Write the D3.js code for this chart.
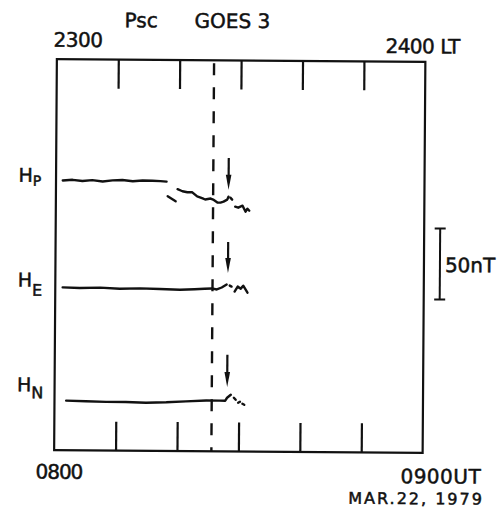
<!DOCTYPE html>
<html><head><meta charset="utf-8">
<script src="https://cdn.jsdelivr.net/npm/d3@7"></script>
<style>html,body{margin:0;padding:0;background:#fff}</style>
</head><body><svg id="c" width="499" height="512"></svg>
<script>
// ---------- data ----------
const titleTexts = ["Psc", "GOES 3"];
const topLabels = ["2300", "2400 LT"];
const bottomLabels = ["0800", "0900UT"];
const dateText = "MAR.22, 1979";
const tickMinutes = [10, 20, 30, 40, 50];   // minutes after 0800 UT
const pscMinute = 25.6;                       // dashed line (Psc onset)
const scaleBarFrom = 108, scaleBarTo = 158;   // nT
const scaleBarText = "50nT";
const traceNames = ["P", "E", "N"];
const traceOffsets = [190, 114, 35];          // nT baseline of each trace
// [minute, nT deviation]
const hpSegments = [
  [[1.1,0],[2.7,0.5],[4.3,-0.3],[5.9,0.4],[7.6,-0.5],[9.2,0.3],[10.8,0.6],[12.5,-0.2],[14.1,0.4],[15.7,0.2],[17.0,0],[18.0,-0.3]],
  [[18.2,-10.6],[19.5,-14.1]],
  [[19.8,-5.6],[20.6,-7.0],[21.4,-7.7],[22.2,-7.7],[23.0,-10.6],[23.9,-12.0],[24.3,-12.7],[25.2,-12.0],[25.6,-12.7],[26.3,-14.8],[26.8,-14.8],[27.3,-14.1],[27.9,-12.7],[28.1,-10.6]],
  [[28.4,-11.3],[28.7,-12.7]],
  [[29.2,-17.6],[29.7,-18.3],[30.4,-16.9],[30.9,-21.1],[31.2,-19.0],[31.5,-20.4]]
];
const heSegments = [
  [[1.2,0.7],[4.0,0.4],[7.3,0.7],[10.5,0],[13.8,0.4],[17.0,0],[20.3,-0.4],[22.7,0],[24.3,0.4],[25.5,0.7],[26.3,0],[27.1,1.4],[27.9,3.5]],
  [[28.4,2.8],[28.7,2.1]],
  [[29.2,-1.4],[29.7,2.1],[30.2,0.7],[30.6,2.8],[31.3,-2.1]]
];
const hnSegments = [
  [[1.9,0],[5.1,-0.4],[8.4,-0.7],[11.6,-0.7],[14.9,-1.1],[18.2,-0.7],[21.4,0],[24.7,0.7],[26.8,0.7],[27.8,0.7],[28.1,2.8],[28.7,4.9]],
  [[29.2,2.8],[29.5,1.4]],
  [[29.9,-0.7],[30.2,0]],
  [[30.6,-1.4],[30.9,-2.1]]
];
const arrowMinute = 28.1;
const arrowFrom = [16.7, 33.5, 33.0];   // nT relative to trace baseline
const arrowTo = [-5.8, 11.7, 10.4];

// ---------- drawing ----------
const svg = d3.select("#c");
const L = 55.5, R = 424, T = 60.5, B = 451.5;
const x = d3.scaleLinear().domain([0, 60]).range([L, R]);
const y = d3.scaleLinear().domain([0, (B - T) / 1.42]).range([B, T]);
const g = svg.append("g").attr("transform", "rotate(0.4,240,256)");
const font = "'DejaVu Sans', sans-serif";
const ink = "#111";

g.append("rect").attr("x", L).attr("y", T).attr("width", R - L).attr("height", B - T)
  .attr("fill", "none").attr("stroke", ink).attr("stroke-width", 2.2);

// top & bottom ticks via axes
const tickLen = 29;
const topAxis = d3.axisBottom(x).tickValues(tickMinutes).tickSize(tickLen).tickFormat("");
const botAxis = d3.axisTop(x).tickValues(tickMinutes).tickSize(tickLen).tickFormat("");
[[topAxis, T], [botAxis, B]].forEach(([ax, yy]) => {
  const a = g.append("g").attr("transform", `translate(0,${yy})`).call(ax);
  a.select(".domain").remove();
  a.selectAll("line").attr("stroke", ink).attr("stroke-width", 2.2);
});

// Psc dashed line
g.append("line").attr("x1", x(pscMinute)).attr("x2", x(pscMinute))
  .attr("y1", T + 3).attr("y2", B).attr("stroke", ink).attr("stroke-width", 2.4)
  .attr("stroke-dasharray", "12,12");

// traces
const line = d3.line().x(d => x(d[0]));
const allSegs = [hpSegments, heSegments, hnSegments];
allSegs.forEach((segs, i) => {
  const off = traceOffsets[i];
  line.y(d => y(off + d[1]));
  g.append("g").selectAll("path").data(segs).join("path")
    .attr("d", line).attr("fill", "none").attr("stroke", ink)
    .attr("stroke-width", 2.4).attr("stroke-linejoin", "round").attr("stroke-linecap", "round");
  // arrow
  const ax = x(arrowMinute), y0 = y(off + arrowFrom[i]), y1 = y(off + arrowTo[i]);
  g.append("line").attr("x1", ax).attr("x2", ax).attr("y1", y0).attr("y2", y1 - 10)
    .attr("stroke", ink).attr("stroke-width", 2.2);
  g.append("path").attr("d", `M${ax - 2.8},${y1 - 15}L${ax + 2.8},${y1 - 15}L${ax},${y1}Z`).attr("fill", ink);
});

// trace labels
const labelDy = [1.5, -1.5, -9];
const subDy = [4, 9, 7];
const subSize = [14, 16, 16];
traceNames.forEach((n, i) => {
  const t = g.append("text").attr("x", 18).attr("y", y(traceOffsets[i]) + labelDy[i])
    .attr("font-family", font).attr("font-size", 19).attr("fill", ink)
    .attr("stroke", ink).attr("stroke-width", 0.5);
  t.append("tspan").text("H");
  t.append("tspan").attr("dy", subDy[i]).attr("font-size", subSize[i]).text(n);
});

// scale bar
const sx = 440;
g.append("line").attr("x1", sx).attr("x2", sx).attr("y1", y(scaleBarFrom)).attr("y2", y(scaleBarTo))
  .attr("stroke", ink).attr("stroke-width", 2);
[scaleBarFrom, scaleBarTo].forEach(v => g.append("line").attr("x1", sx - 5.5).attr("x2", sx + 5.5)
  .attr("y1", y(v)).attr("y2", y(v)).attr("stroke", ink).attr("stroke-width", 2));
g.append("text").attr("x", 445).attr("y", (y(scaleBarFrom) + y(scaleBarTo)) / 2 + 8)
  .attr("font-family", font).attr("font-size", 20).attr("fill", ink)
  .attr("stroke", ink).attr("stroke-width", 0.5).text(scaleBarText);

// titles and time labels
const txt = (s, xx, yy, size, ls) => g.append("text").attr("x", xx).attr("y", yy)
  .attr("font-family", font).attr("font-size", size).attr("letter-spacing", ls || 0)
  .attr("fill", ink).attr("stroke", ink).attr("stroke-width", 0.5).text(s);
txt(titleTexts[0], 123, 28, 20);
txt(titleTexts[1], 193, 28, 20);
txt(topLabels[0], 52, 48, 20, -0.5);
txt(topLabels[1], 384, 52, 20, -0.5);
txt(bottomLabels[0], 37, 480, 20, -1);
txt(bottomLabels[1], 402, 482, 20, 0.5);
txt(dateText, 350, 503, 16, 2);
</script></body></html>
